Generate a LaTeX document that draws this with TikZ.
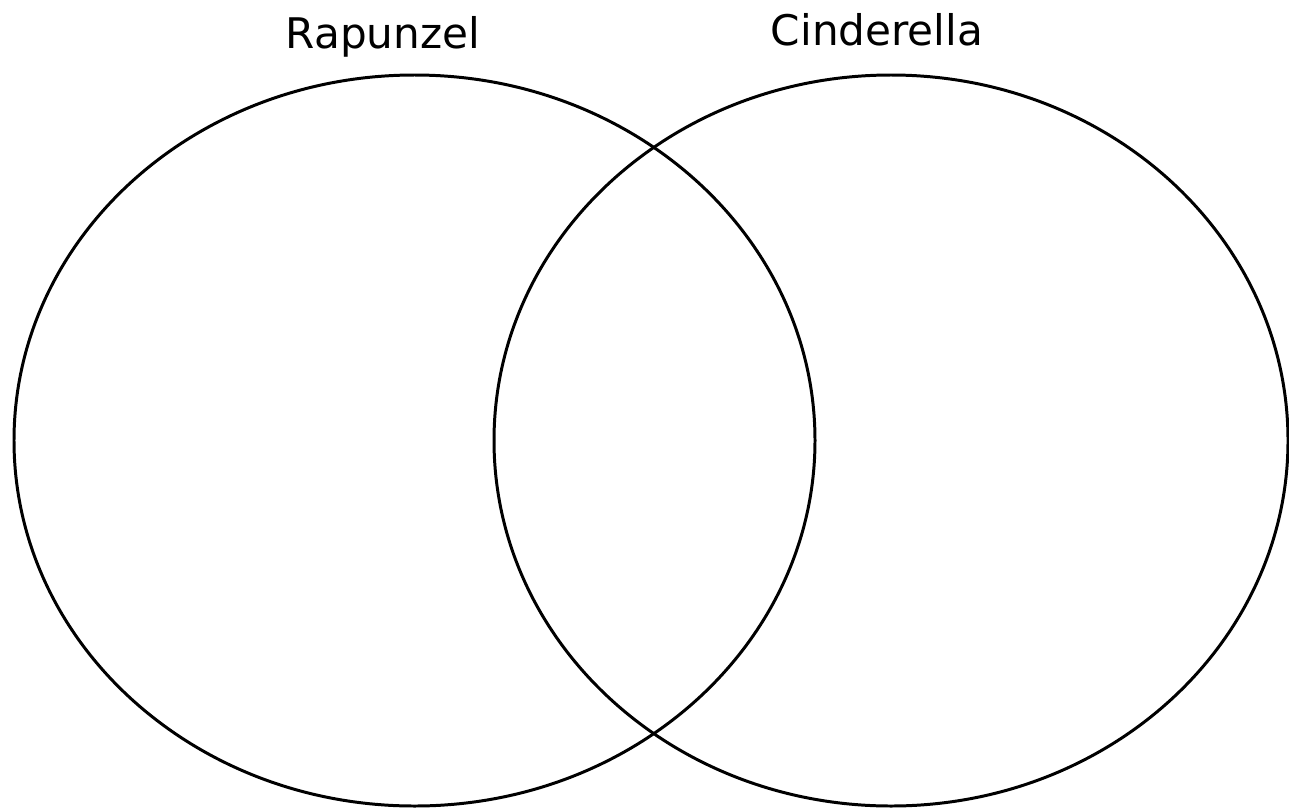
\documentclass[tikz,border=0pt]{standalone}
\usepackage{fontspec}
\setmainfont{DejaVu Sans}
\usepackage{tikz}
\usetikzlibrary{shapes.geometric, positioning}
\tikzset{
  setE/.style    = {ellipse, draw=black, line width=1.7pt, inner sep=0pt,
                    minimum height=14.62cm},
  setname/.style = {anchor=base, inner sep=0pt, font=\fontsize{24pt}{28pt}\selectfont},
}
\begin{document}
\begin{tikzpicture}

    %% page frame
    \useasboundingbox (0,0) rectangle (25.78,-16.22);

    %% the two sets
    \node[setE, minimum width=16.02cm] (rap) at ( 8.29,-8.81) {};
    \node[setE, minimum width=15.88cm] (cin) at (17.82,-8.81) {};

    %% set names
    \node[setname] (rapT) at ( 7.66,-0.96) {Rapunzel};
    \node[setname] (cinT) at (17.54,-0.90) {Cinderella};

\end{tikzpicture}
\end{document}
